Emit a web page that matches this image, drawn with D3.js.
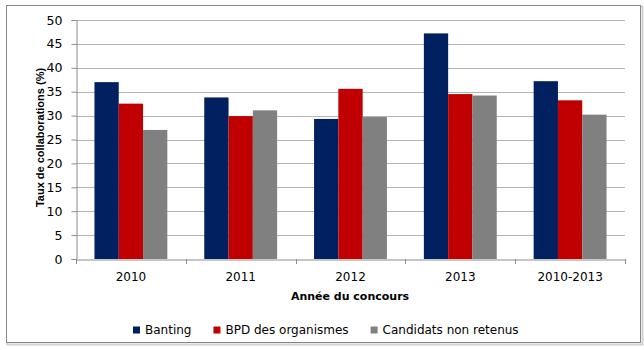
<!DOCTYPE html>
<html>
<head>
<meta charset="utf-8">
<script src="https://cdn.jsdelivr.net/npm/d3@7/dist/d3.min.js"></script>
<style>
  html, body { margin: 0; padding: 0; background: #fff; }
  svg { display: block; }
  text { font-family: "DejaVu Sans", sans-serif; fill: #000; }
</style>
</head>
<body>
<svg id="chart" width="644" height="350"></svg>
<script>
const categories = ["2010", "2011", "2012", "2013", "2010-2013"];
const seriesNames = ["Banting", "BPD des organismes", "Candidats non retenus"];
const banting = [37.0, 33.8, 29.3, 47.2, 37.2];
const bpd = [32.5, 29.9, 35.6, 34.5, 33.2];
const nonRetenus = [27.0, 31.1, 29.7, 34.2, 30.2];
const yTicks = [0, 5, 10, 15, 20, 25, 30, 35, 40, 45, 50];
const colors = ["#002060", "#C00000", "#808080"];
const yTitle = "Taux de collaborations (%)";
const xTitle = "Année du concours";

(function () {
const seriesValues = [banting, bpd, nonRetenus];
const svg = d3.select("#chart");

// outer frame
svg.append("rect").attr("x", 7.5).attr("y", 6.5).attr("width", 635).attr("height", 338)
  .attr("fill", "none").attr("stroke", "#d0d0d0").attr("stroke-width", 2);
svg.append("rect").attr("x", 6.5).attr("y", 5.5).attr("width", 634).attr("height", 337)
  .attr("fill", "#fff").attr("stroke", "#868686").attr("stroke-width", 1);

const pLeft = 76, pRight = 625, pTop = 20, pBottom = 259;

const x = d3.scaleBand().domain(categories).range([pLeft, pRight]).paddingInner(0).paddingOuter(0);
const x1 = d3.scaleBand().domain(seriesNames).range([0, x.bandwidth()]).paddingInner(0).paddingOuter(0.76);
const y = d3.scaleLinear().domain([0, 50]).range([pBottom, pTop]);

// gridlines
svg.append("g").selectAll("line").data(yTicks.filter(d => d > 0)).join("line")
  .attr("x1", pLeft).attr("x2", pRight)
  .attr("y1", d => Math.round(y(d)) + 0.5).attr("y2", d => Math.round(y(d)) + 0.5)
  .attr("stroke", "#b4b4b4").attr("stroke-width", 1);

// bars
const groups = svg.append("g").selectAll("g").data(categories).join("g")
  .attr("transform", d => `translate(${x(d)},0)`);
groups.selectAll("rect").data((c, i) => seriesNames.map((s, j) => ({ s, j, v: seriesValues[j][i] })))
  .join("rect")
  .attr("x", d => x1(d.s))
  .attr("width", x1.bandwidth())
  .attr("y", d => y(d.v))
  .attr("height", d => y(0) - y(d.v))
  .attr("fill", d => colors[d.j]);

// y axis
const yAxis = svg.append("g").attr("transform", `translate(${pLeft + 0.5},0)`)
  .call(d3.axisLeft(y).tickValues(yTicks).tickSize(5).tickPadding(9).tickFormat(d3.format("d")));
yAxis.select(".domain").attr("stroke", "#8c8c8c");
yAxis.selectAll(".tick line").attr("stroke", "#8c8c8c");
yAxis.selectAll("text").style("font-size", "12.5px").style("font-family", "DejaVu Sans").attr("fill", "#000");

// x axis
const xAxis = svg.append("g").attr("transform", `translate(0,${pBottom + 0.5})`)
  .call(d3.axisBottom(x).tickSize(0).tickPadding(13));
xAxis.select(".domain").attr("stroke", "#8c8c8c");
xAxis.selectAll("text").style("font-size", "12px").style("font-family", "DejaVu Sans").attr("fill", "#000");
// category boundary ticks
svg.append("g").selectAll("line").data(d3.range(categories.length + 1)).join("line")
  .attr("x1", i => Math.round(pLeft + i * x.step()) + 0.5)
  .attr("x2", i => Math.round(pLeft + i * x.step()) + 0.5)
  .attr("y1", pBottom).attr("y2", pBottom + 5)
  .attr("stroke", "#8c8c8c");

// axis titles
svg.append("text").attr("x", 350).attr("y", 300).attr("text-anchor", "middle")
  .style("font-size", "11px").style("font-weight", "bold").text(xTitle);
svg.append("text").attr("transform", `translate(44,137.5) rotate(-90)`).attr("text-anchor", "middle")
  .style("font-family", "Liberation Sans").style("font-size", "11px").style("font-weight", "bold").text(yTitle);

// legend
const legend = svg.append("g");
const items = legend.selectAll("g").data(seriesNames).join("g");
items.append("rect").attr("width", 7).attr("height", 7).attr("y", -7)
  .attr("fill", (d, i) => colors[i]);
items.append("text").attr("x", 12).attr("y", 0)
  .style("font-size", "12px").text(d => d);
const gap = 22;
let cx = 0;
items.each(function () {
  const g = d3.select(this);
  g.attr("transform", `translate(${cx},0)`);
  cx += 12 + g.select("text").node().getComputedTextLength() + gap;
});
const total = cx - gap;
legend.attr("transform", `translate(${Math.round(326 - total / 2)},333.5)`);
})();
</script>
</body>
</html>
